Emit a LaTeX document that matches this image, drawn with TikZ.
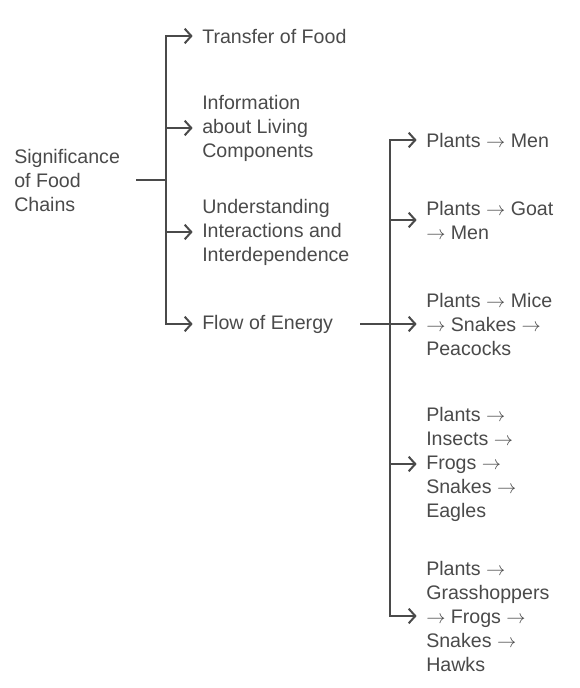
\documentclass[tikz,border=0pt]{standalone}
\usepackage{fontspec}
\setmainfont{Liberation Sans}
\usetikzlibrary{arrows.meta}
\definecolor{ink}{HTML}{4A4A4A}
\newcommand{\chainto}{\ensuremath{\rightarrow}}

\begin{document}
\begin{tikzpicture}[x=0.75pt, y=-0.75pt,
  label/.style={anchor=west, align=left, inner sep=0pt, text=ink, font=\fontsize{14.7}{18}\selectfont},
  branch/.style={draw=ink, line width=1.5pt, line cap=rect},
  leaf/.style={-{Straight Barb[length=5pt, width=11pt]}, draw=ink, line width=1.5pt}]

  \useasboundingbox (0,0) rectangle (580,688);

  % Root
  \node[label] (root) at (14,180) {Significance\\of Food\\Chains};

  % First level
  \node[label] (T1) at (202,36) {Transfer of Food};
  \node[label] (T2) at (202,128) {Information\\about Living\\Components};
  \node[label] (T3) at (202,232) {Understanding\\Interactions and\\Interdependence};
  \node[label] (T4) at (202,324) {Flow of Energy};

  % Second level
  \node[label] (F1) at (426,140) {Plants \chainto{} Men};
  \node[label] (F2) at (426,220) {Plants \chainto{} Goat\\\chainto{} Men};
  \node[label] (F3) at (426,324) {Plants \chainto{} Mice\\\chainto{} Snakes \chainto\\Peacocks};
  \node[label] (F4) at (426,464) {Plants \chainto\\Insects \chainto\\Frogs \chainto\\Snakes \chainto\\Eagles};
  \node[label] (F5) at (426,616) {Plants \chainto\\Grasshoppers\\\chainto{} Frogs \chainto\\Snakes \chainto\\Hawks};

  % Junctions
  \coordinate (R) at (137,180);
  \coordinate (J1) at (166,180);
  \coordinate (E) at (361,324);
  \coordinate (J2) at (390,324);

  % Root bracket
  \draw[branch] (R) -- (J1);
  \draw[branch] (J1 |- T1.west) -- (J1 |- T4.west);
  \foreach \t in {T1, T2, T3, T4}
    \draw[leaf] (J1 |- \t.west) -- ([xshift=-7pt]\t.west);

  % Energy bracket
  \draw[branch] (E) -- (J2);
  \draw[branch] (J2 |- F1.west) -- (J2 |- F5.west);
  \foreach \f in {F1, F2, F3, F4, F5}
    \draw[leaf] (J2 |- \f.west) -- ([xshift=-7pt]\f.west);

\end{tikzpicture}
\end{document}
